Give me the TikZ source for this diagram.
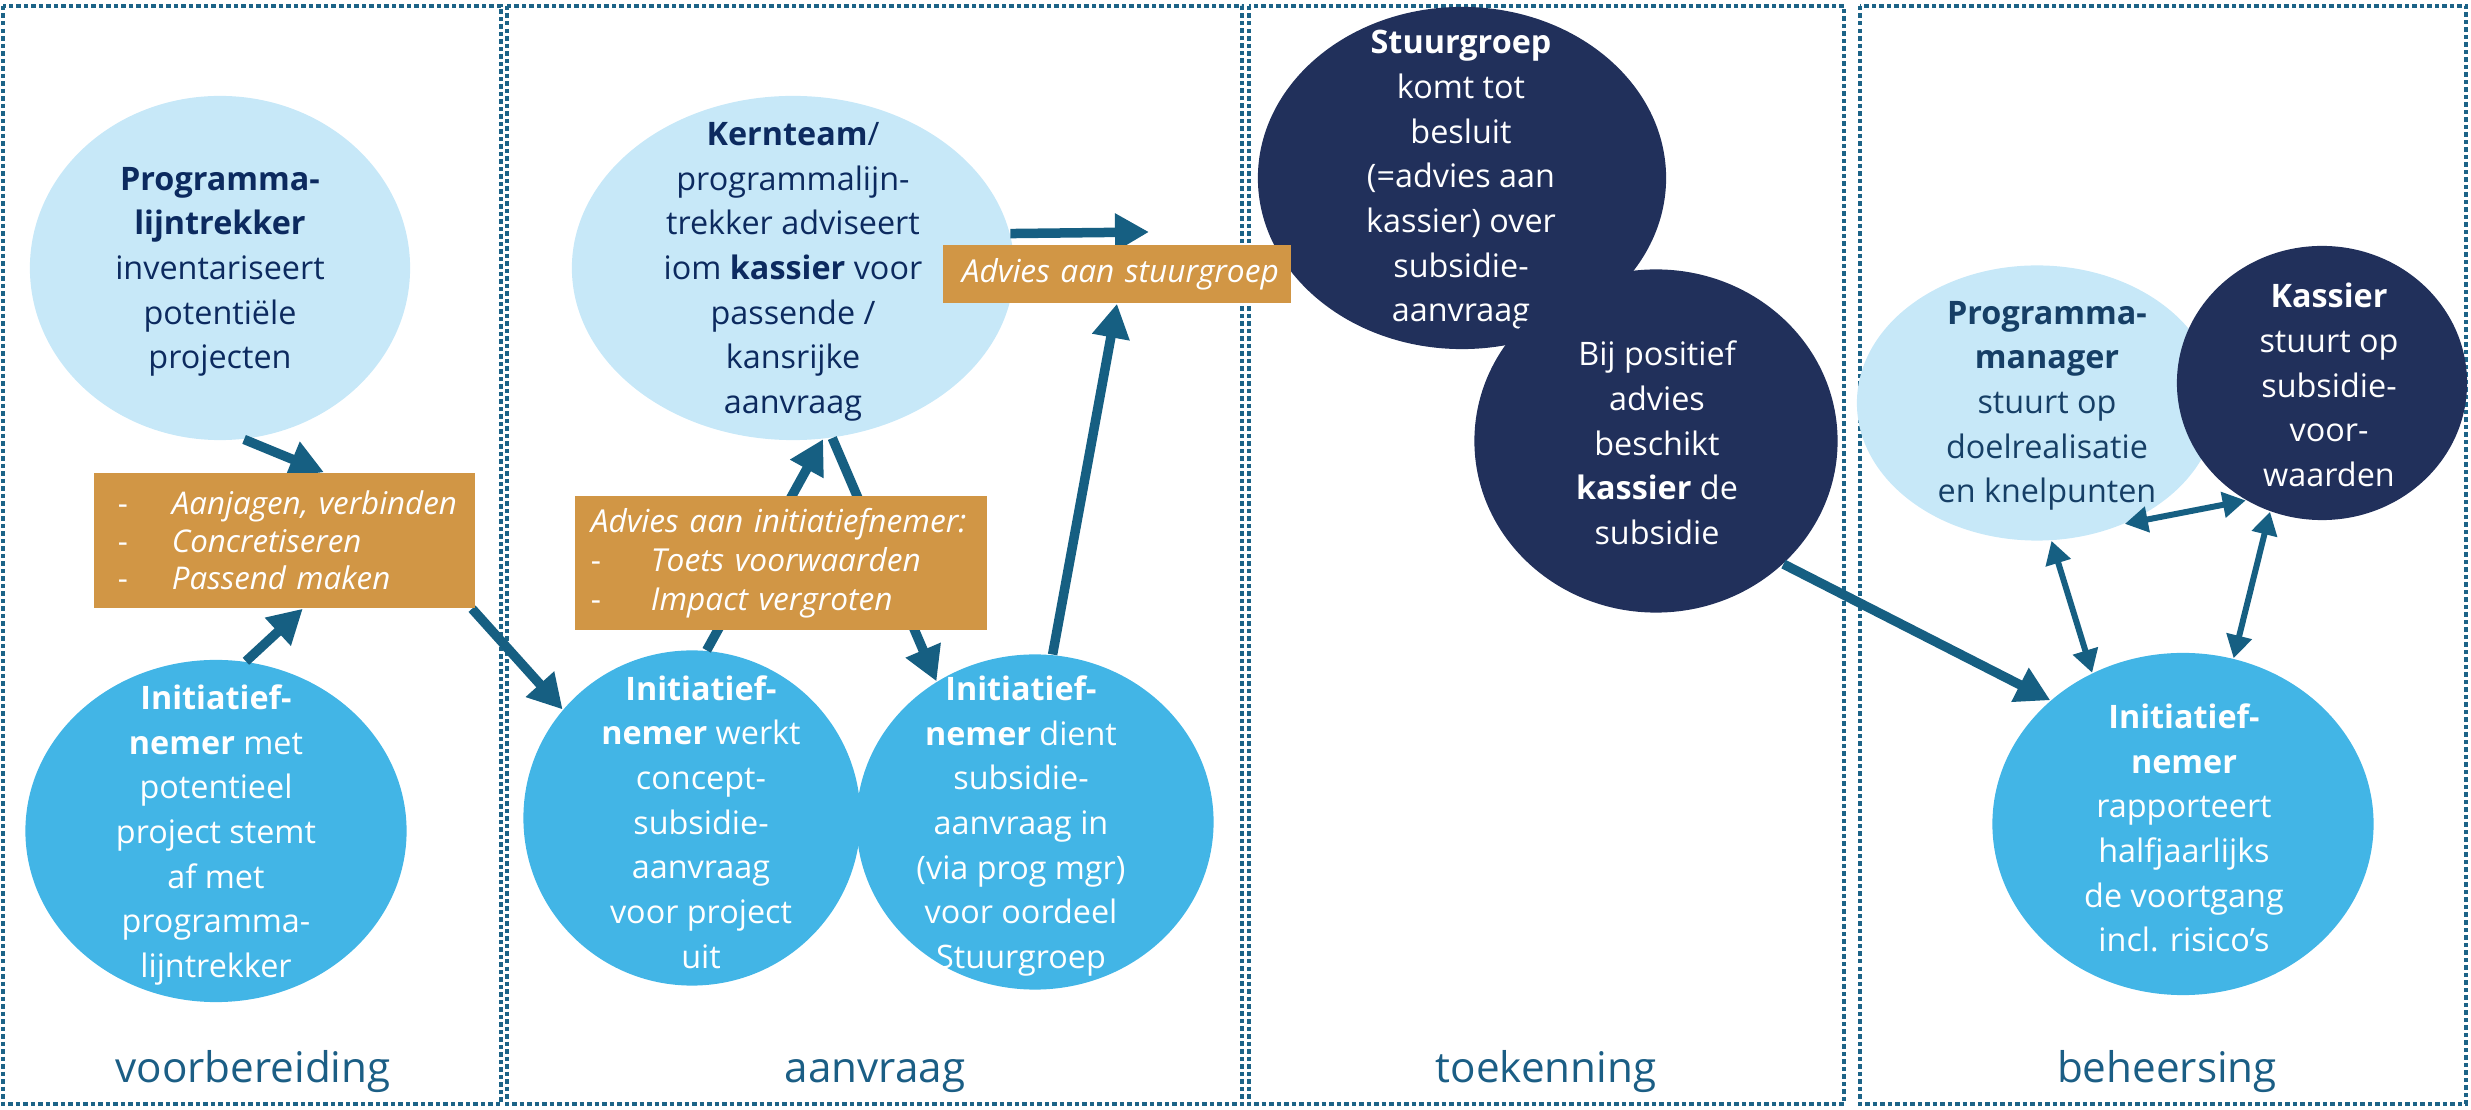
\documentclass[tikz,border=0pt]{standalone}
\usepackage{fontspec}
\setmainfont{Open Sans}
\usetikzlibrary{shapes.geometric,arrows.meta}
\definecolor{lichtblauw}{HTML}{C7E8F8}
\definecolor{middenblauw}{HTML}{42B5E6}
\definecolor{marine}{HTML}{21305B}
\definecolor{oker}{HTML}{D19645}
\definecolor{pijlkleur}{HTML}{165F82}
\definecolor{randkleur}{HTML}{1C6387}
\definecolor{donkertekst}{HTML}{0C2A5F}
\definecolor{pmtekst}{HTML}{163F66}
\definecolor{fasekleur}{HTML}{1B5E85}
\pgfdeclarelayer{pijlen}
\pgfdeclarelayer{voor}
\pgfsetlayers{main,pijlen,voor}
\begin{document}
\begin{tikzpicture}[x=0.01cm,y=-0.01cm,
  paneel/.style={draw=randkleur,line width=0.045cm,dash pattern=on 0.045cm off 0.03cm},
  bel/.style={ellipse,inner sep=0pt},
  licht/.style={bel,fill=lichtblauw},
  midden/.style={bel,fill=middenblauw},
  donker/.style={bel,fill=marine},
  tekst/.style={align=center,inner sep=0pt,font=\fontsize{9.2}{12.7}\selectfont},
  advies/.style={fill=oker,text=white,align=left,inner ysep=0pt},
  fase/.style={anchor=base,text=fasekleur,font=\fontsize{12}{14}\selectfont},
  pijl/.style={draw=pijlkleur,line width=0.095cm,-{Triangle[length=0.34cm,width=0.36cm]}},
  dubbel/.style={draw=pijlkleur,line width=0.06cm,{Triangle[length=0.23cm,width=0.25cm]}-{Triangle[length=0.23cm,width=0.25cm]}}]
\useasboundingbox (0,0) rectangle (2471,1110);
\draw[paneel] (3,6) rectangle (501,1104);
\draw[paneel] (507,6) rectangle (1242,1104);
\draw[paneel] (1249,6) rectangle (1844,1104);
\draw[paneel] (1860,6) rectangle (2466,1104);
\node[fase] (voorb) at (253,1083) {voorbereiding};
\node[fase] (aanvr) at (875,1083) {aanvraag};
\node[fase] (toek) at (1546,1083) {toekenning};
\node[fase] (beheer) at (2167,1083) {beheersing};
% voorbereiding
\node[licht,minimum width=3.80cm,minimum height=3.44cm] (lijn) at (220,268) {};
\node[tekst,text=donkertekst] (lijn-t) at (220,272) {\textbf{Programma-}\\\textbf{lijntrekker}\\inventariseert\\potentiële\\projecten};
\node[midden,minimum width=3.81cm,minimum height=3.42cm] (init1) at (216,831) {};
\node[tekst,text=white] (init1-t) at (216,835) {\textbf{Initiatief-}\\\textbf{nemer} met\\potentieel\\project stemt\\af met\\programma-\\lijntrekker};
% aanvraag
\node[licht,minimum width=4.42cm,minimum height=3.44cm] (kern) at (793,268) {};
\node[tekst,text=donkertekst] (kern-t) at (793,272) {\textbf{Kernteam}/\\programmalijn-\\trekker adviseert\\iom \textbf{kassier} voor\\passende /\\kansrijke\\aanvraag};
\node[midden,minimum width=3.37cm,minimum height=3.35cm] (initA) at (692,818) {};
\node[midden,minimum width=3.57cm,minimum height=3.35cm] (initB) at (1035,822) {};
\node[tekst,text=white] (initA-t) at (701,822) {\textbf{Initiatief-}\\\textbf{nemer} werkt\\concept-\\subsidie-\\aanvraag\\voor project\\uit};
\node[tekst,text=white] (initB-t) at (1021,826) {\textbf{Initiatief-}\\\textbf{nemer} dient\\subsidie-\\aanvraag in\\(via prog mgr)\\voor oordeel\\Stuurgroep};
% toekenning
\node[donker,minimum width=4.08cm,minimum height=3.42cm] (stuur) at (1462,178) {};
\node[tekst,text=white] (stuur-t) at (1461,180) {\textbf{Stuurgroep}\\komt tot\\besluit\\(=advies aan\\kassier) over\\subsidie-\\aanvraag};
\node[donker,minimum width=3.63cm,minimum height=3.43cm] (besch) at (1656,441) {};
\node[tekst,text=white] (besch-t) at (1657,443) {Bij positief\\advies\\beschikt\\\textbf{kassier} de\\subsidie};
% beheersing
\node[licht,minimum width=3.60cm,minimum height=2.75cm] (pm) at (2037,403) {};
\node[tekst,text=pmtekst] (pm-t) at (2047,406) {\textbf{Programma-}\\\textbf{manager}\\stuurt op\\doelrealisatie\\en knelpunten};
\node[donker,minimum width=2.90cm,minimum height=2.74cm] (kas) at (2322,383) {};
\node[tekst,text=white] (kas-t) at (2329,385) {\textbf{Kassier}\\stuurt op\\subsidie-\\voor-\\waarden};
\node[midden,minimum width=3.81cm,minimum height=3.42cm] (initC) at (2183,824) {};
\node[tekst,text=white] (initC-t) at (2184,828) {\textbf{Initiatief-}\\\textbf{nemer}\\rapporteert\\halfjaarlijks\\de voortgang\\incl. risico’s};
\begin{pgfonlayer}{voor}
\node[advies,minimum width=3.81cm,minimum height=1.35cm,text width=3.33cm,inner xsep=0.24cm,font=\fontsize{8.9}{10.7}\selectfont\itshape] (box1) at (284.5,540.5)
  {\mbox{\makebox[0.54cm][l]{\upshape -}Aanjagen, verbinden}\\\mbox{\makebox[0.54cm][l]{\upshape -}Concretiseren}\\\mbox{\makebox[0.54cm][l]{\upshape -}Passend maken}};
\node[advies,minimum width=4.12cm,minimum height=1.34cm,text width=3.80cm,inner xsep=0.16cm,font=\fontsize{9}{11.1}\selectfont\itshape] (box3) at (781,563)
  {\mbox{Advies aan initiatiefnemer:}\\\mbox{\makebox[0.6cm][l]{\upshape -}Toets voorwaarden}\\\mbox{\makebox[0.6cm][l]{\upshape -}Impact vergroten}};
\node[advies,minimum width=3.48cm,minimum height=0.58cm,text width=3.10cm,inner xsep=0.19cm,font=\fontsize{9}{10}\selectfont\itshape] (box2) at (1117,274)
  {\mbox{Advies aan stuurgroep}};
\end{pgfonlayer}
\coordinate (naarStuur) at (1149,232);
\begin{pgfonlayer}{pijlen}
\draw[pijl] (lijn.-82) -- (box1.60.6);
\draw[pijl] (init1.80.7) -- (box1.-75.3);
\draw[pijl] (box1.-20) -- (initA.140.6);
\draw[pijl] (initA.85.2) -- (kern.-80);
\draw[pijl] (kern.-77.8) -- (initB.125.6);
\draw[pijl] (kern.9.4) -- (naarStuur);
\draw[pijl] (initB.84.7) -- (box2.south);
\draw[pijl] (besch.-44.1) -- (initC.137.9);
\draw[dubbel] (pm.-54.2) -- (kas.-123.4);
\draw[dubbel] (pm.-84.7) -- (initC.121.4);
\draw[dubbel] (kas.-112.8) -- (initC.73.8);
\end{pgfonlayer}
\end{tikzpicture}
\end{document}
